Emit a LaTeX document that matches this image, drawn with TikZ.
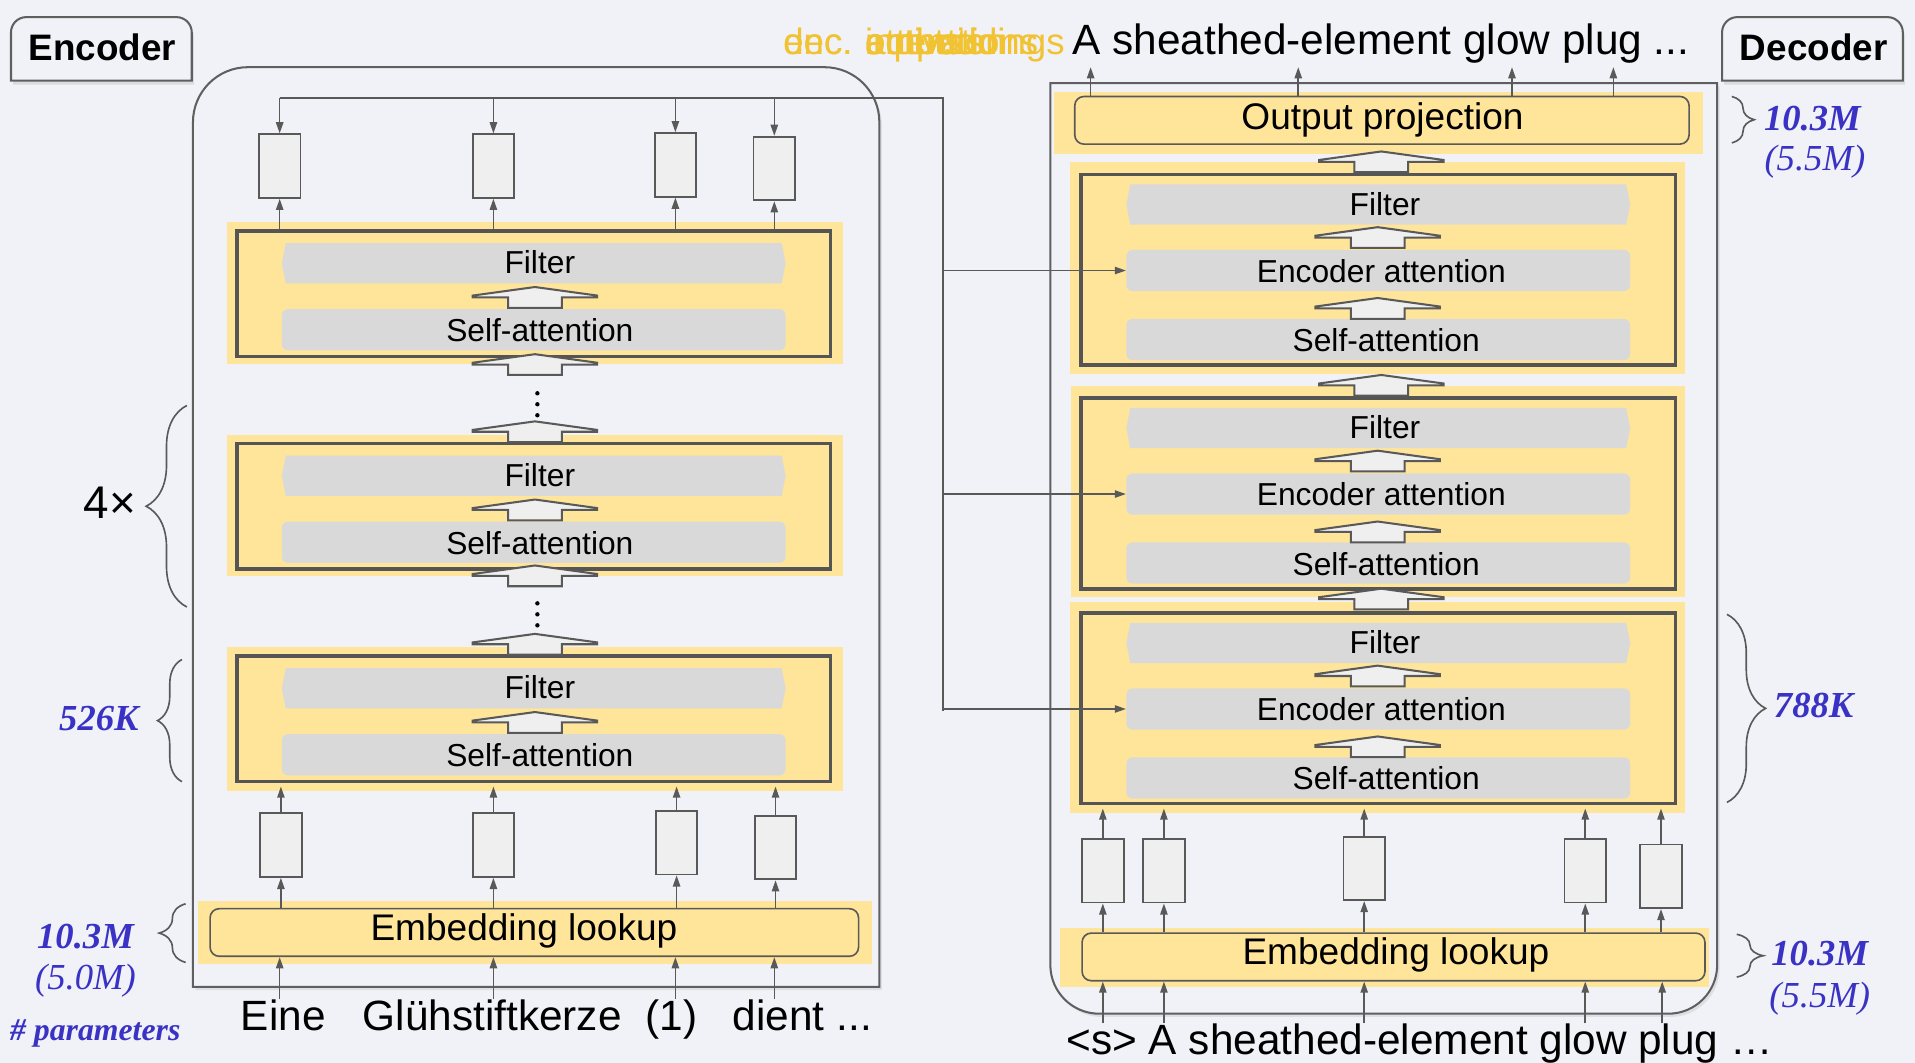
\documentclass[tikz,border=0pt]{standalone}
\usepackage{fontspec}
\setmainfont{Liberation Sans}
\newfontfamily\numfont{Liberation Serif}
\usetikzlibrary{arrows.meta,shapes.symbols,decorations.pathreplacing,shadows,calc}

\definecolor{bgc}{HTML}{F0F2F7}
\definecolor{yel}{HTML}{FFE599}
\definecolor{barc}{HTML}{D9D9D9}
\definecolor{vecfill}{HTML}{EFEFEF}
\definecolor{linec}{HTML}{595959}
\definecolor{framec}{HTML}{5F5F5F}
\definecolor{blockline}{HTML}{555555}
\definecolor{gold}{HTML}{F1C232}
\definecolor{paramblue}{RGB}{58,50,196}

\newcommand\fontBar{\fontsize{15.6}{18}\selectfont}
\newcommand\fontLook{\fontsize{18.2}{21}\selectfont}
\newcommand\fontWord{\fontsize{20.8}{24}\selectfont}
\newcommand\fontTab{\fontsize{18.1}{21}\selectfont\bfseries}
\newcommand\fontGold{\fontsize{18}{21}\selectfont}
\newcommand\fontNum{\fontsize{18}{21}\selectfont\numfont\itshape}

\tikzset{
  wire/.style={draw=linec, line width=0.8pt},
  arr/.style={wire, -{Triangle[length=5.5pt,width=3.6pt]}},
  vecbox/.style={draw=linec, fill=vecfill, line width=0.9pt, minimum width=20.4pt,
    minimum height=31.2pt, inner sep=0pt},
  encblock/.style={draw=blockline, line width=1.8pt, minimum width=291.6pt,
    minimum height=61.8pt, inner sep=0pt},
  decblock/.style={draw=blockline, line width=1.8pt, minimum width=292.2pt,
    minimum height=93.6pt, inner sep=0pt},
  filterbar/.style={signal, signal to=west and east, signal pointer angle=158,
    fill=barc, minimum width=247.5pt, minimum height=19.8pt, inner sep=0pt, font=\fontBar},
  attnbar/.style={rectangle, rounded corners=3pt, fill=barc, minimum width=247.5pt,
    minimum height=20.2pt, inner sep=0pt, font=\fontBar},
  lookup/.style={rectangle, rounded corners=4.5pt, draw=linec, line width=0.8pt,
    fill=yel, minimum height=23.4pt, inner sep=0pt, font=\fontLook},
  hollowarrow/.style={draw=linec, fill=vecfill, line width=1pt, line join=miter},
  frame/.style={draw=framec, line width=1pt, fill=bgc,
    drop shadow={opacity=0.16, shadow xshift=1.2pt, shadow yshift=-1.6pt}},
  tabshape/.style={draw=framec, line width=1pt, fill=bgc,
    drop shadow={opacity=0.2, shadow xshift=1pt, shadow yshift=-2pt}},
  tab/.style={font=\fontTab, inner sep=0pt},
  curly/.style={draw=linec, line width=0.8pt, decorate, decoration={brace, amplitude=#1}},
  bluebold/.style={font=\fontNum\bfseries, text=paramblue, inner sep=0pt},
  blueplain/.style={font=\fontNum, text=paramblue, inner sep=0pt},
  word/.style={font=\fontWord, inner sep=0pt, anchor=base},
  goldword/.style={font=\fontGold, text=gold, inner sep=0pt, anchor=base west},
  upblock/.pic={\path[hollowarrow] (0,0) -- (51,7) -- (51,8.5) -- (22,8.5) -- (22,17)
    -- (-22,17) -- (-22,8.5) -- (-51,8.5) -- (-51,7) -- cycle;},
}

\begin{document}
\begin{tikzpicture}[x=0.6pt,y=-0.6pt]
\useasboundingbox (0,0) rectangle (1568,870);
\fill[bgc] (0,0) rectangle (1568,870);

% ---------- outer frames ----------
\path[frame] (158,808) [rounded corners=27pt] -- (158,55) -- (720,55)
  [sharp corners] -- (720,808) -- cycle;
\path[frame] (860,68) [rounded corners=24pt] -- (860,830) -- (1406,830)
  [sharp corners] -- (1406,68) -- cycle;

% ---------- title tabs ----------
\path[tabshape] (9,66) [rounded corners=7.5pt] -- (9,14) -- (157,14)
  [sharp corners] -- (157,66) -- cycle;
\node[tab] (enclabel) at (84,39) {Encoder};
\path[tabshape] (1410,66) [rounded corners=7.5pt] -- (1410,14) -- (1558,14)
  [sharp corners] -- (1558,66) -- cycle;
\node[tab] (declabel) at (1485,39) {Decoder};

% ---------- encoder ----------
\fill[yel] (186,182) rectangle (690,298);
\fill[yel] (186,356) rectangle (690,472);
\fill[yel] (186,530) rectangle (690,648);
\fill[yel] (162,738) rectangle (714,789);

\foreach \i/\T in {1/189, 2/363, 3/537} {
  \node[encblock] (ebk\i) at (437,\T+51.5) {};
  \node[filterbar] (ef\i) at (437,\T+26.5) {};
  \node[font=\fontBar] (eft\i) at (442,\T+26) {Filter};
  \node[attnbar] (esa\i) at (437,\T+81) {};
  \node[font=\fontBar] (esat\i) at (442,\T+81.5) {Self-attention};
  \pic at (438,\T+46) {upblock};
}

\node[lookup, minimum width=318.6pt] (eemb) at (437.5,763.5) {};
\node[font=\fontLook] (eembt) at (429,762) {Embedding lookup};

\node[vecbox] (et1) at (229,136) {};
\node[vecbox] (et2) at (404,136) {};
\node[vecbox] (et3) at (553,135) {};
\node[vecbox] (et4) at (634,138) {};
\node[vecbox] (eb1) at (230,692) {};
\node[vecbox] (eb2) at (404,692) {};
\node[vecbox] (eb3) at (554,690) {};
\node[vecbox] (eb4) at (635,694) {};

% repeated-layer dots
\foreach \y in {322,331,340,494,503,512}
  \fill[black] (440,\y) circle (1.8);

% layer-to-layer block arrows
\pic at (438,290) {upblock};
\pic at (438,345) {upblock};
\pic at (438,463) {upblock};
\pic at (438,519) {upblock};

% encoder output bus
\coordinate (busL) at (229,80);
\coordinate (busR) at (772,80);
\coordinate (busB) at (772,582);
\draw[wire] (busL) -- (busR) -- (busB);
\foreach \k in {1,...,4} {
  \draw[arr] (busL -| et\k) -- (et\k.north);
  \draw[arr] (ebk1.north -| et\k) -- (et\k.south);
  \draw[arr] (eb\k.north) -- ([yshift=-1.5pt]ebk3.south -| eb\k);
  \draw[arr] (eemb.north -| eb\k) -- (eb\k.south);
}

% source tokens
\coordinate (ein1) at (229,818);
\coordinate (ein2) at (404,818);
\coordinate (ein3) at (553,818);
\coordinate (ein4) at (634,818);
\foreach \k in {1,...,4}
  \draw[arr] (ein\k) -- (ein\k |- eemb.south);
\node[word] (w1) at (232,844) {Eine};
\node[word] (w2) at (403,844) {Glühstiftkerze};
\node[word] (w3) at (550,844) {(1)};
\node[word] (w4) at (657,844) {dient ...};

% ---------- decoder ----------
\fill[yel] (863,75) rectangle (1394,126);
\fill[yel] (876,133) rectangle (1380,306);
\fill[yel] (877,316) rectangle (1380,489);
\fill[yel] (876,493) rectangle (1380,666);
\fill[yel] (868,760) rectangle (1399,808);

\node[lookup, minimum width=301.8pt] (dop) at (1131.5,98.5) {};
\node[font=\fontLook] (dopt) at (1132,98) {Output projection};

\foreach \i/\T in {1/143, 2/326, 3/502} {
  \node[decblock] (dbk\i) at (1128.5,\T+78) {};
  \node[filterbar] (df\i) at (1128.5,\T+24.5) {};
  \node[font=\fontBar] (dft\i) at (1134,\T+24) {Filter};
  \node[attnbar] (dea\i) at (1128.5,\T+78.5) {};
  \node[font=\fontBar] (deat\i) at (1131,\T+79) {Encoder attention};
  \node[attnbar] (dsa\i) at (1128.5,\T+135) {};
  \node[font=\fontBar] (dsat\i) at (1135,\T+135.5) {Self-attention};
  \pic at (1128,\T+43) {upblock};
  \pic at (1128,\T+101) {upblock};
}

\pic at (1131,124) {upblock};
\pic at (1131,307) {upblock};
\pic at (1131,482) {upblock};

\node[lookup, minimum width=306pt] (demb) at (1141,783.5) {};
\node[font=\fontLook] (dembt) at (1143,782) {Embedding lookup};

\node[vecbox] (dv1) at (903,713) {};
\node[vecbox] (dv2) at (953,713) {};
\node[vecbox] (dv3) at (1117,711) {};
\node[vecbox] (dv4) at (1298,713) {};
\node[vecbox] (dv5) at (1360,717.5) {};

\foreach \k in {1,...,5} {
  \draw[arr] (dv\k.north) -- ([yshift=-1.5pt]dbk3.south -| dv\k);
  \draw[arr] (demb.north -| dv\k) -- (dv\k.south);
}

\coordinate (din1) at (903,838);
\coordinate (din2) at (953,838);
\coordinate (din3) at (1117,838);
\coordinate (din4) at (1298,838);
\coordinate (din5) at (1361,838);
\foreach \k in {1,...,5}
  \draw[arr] (din\k) -- (din\k |- demb.south);
\node[word, anchor=base west] (dsrc) at (873,863) {<s> A sheathed-element glow plug …};

% decoder outputs
\coordinate (dout1) at (893,55);
\coordinate (dout2) at (1063,55);
\coordinate (dout3) at (1238,55);
\coordinate (dout4) at (1321,55);
\foreach \k in {1,...,4}
  \draw[arr] (dout\k |- dop.north) -- (dout\k);
\node[word, anchor=base west] (dtgt) at (878,45) {A sheathed-element glow plug ...};

% stacked captions printed on top of each other
\node[goldword] (gA) at (641,45) {dec.};
\node[goldword] (gB) at (641,45) {enc.};
\node[goldword] (gC) at (708,45) {embeddings};
\node[goldword] (gD) at (708,45) {outputs};
\node[goldword] (gE) at (708,45) {inputs};
\node[goldword] (gF) at (708,45) {attention};
\node[goldword] (gG) at (708,45) {activations};

% encoder states into every encoder-attention layer
\foreach \i in {1,2,3}
  \draw[arr] (busR |- dea\i) -- (dea\i.west);

% ---------- parameter annotations ----------
\draw[curly=20pt] (153,497) -- (153,332);
\node[font=\fontsize{22.5}{26}\selectfont, inner sep=0pt] (times) at (90,412) {4×};
\draw[curly=12pt] (149,640) -- (149,540);
\node[bluebold] (p526) at (81,588) {526K};
\draw[curly=13pt] (152,788) -- (152,740);
\node[bluebold] (pemb) at (70,767) {10.3M};
\node[blueplain] (pembs) at (70,803) {(5.0M)};
\node[bluebold, font=\fontsize{15.6}{18}\selectfont\numfont\itshape\bfseries] (plabel) at (78,846) {\# parameters};

\draw[curly=11pt] (1418,79) -- (1418,117);
\node[bluebold] (pop) at (1484,97) {10.3M};
\node[blueplain] (pops) at (1486,132) {(5.5M)};
\draw[curly=19pt] (1414,503) -- (1414,657);
\node[bluebold] (p788) at (1485,578) {788K};
\draw[curly=13pt] (1422,765) -- (1422,800);
\node[bluebold] (pdemb) at (1490,781) {10.3M};
\node[blueplain] (pdembs) at (1490,818) {(5.5M)};
\end{tikzpicture}
\end{document}
